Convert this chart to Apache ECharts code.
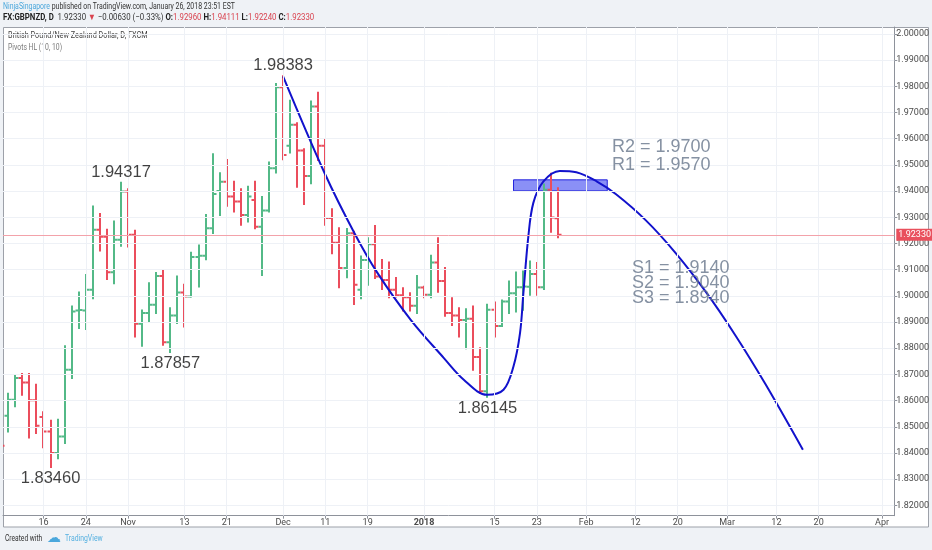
<!DOCTYPE html>
<html><head><meta charset="utf-8">
<script src="https://cdn.jsdelivr.net/npm/echarts@6/dist/echarts.min.js"></script>
<style>html,body{margin:0;padding:0;background:#eff2f6;}#c{width:932px;height:550px;}</style>
</head><body><div id="c"></div>
<script>
// GBPNZD daily bars, trading-day index 0 = 2017-10-06
const opens  = [1.8480,1.8542,1.8603,1.8686,1.8669,1.8601,1.8537,1.8482,1.8400,1.8463,
                1.8718,1.8944,1.8944,1.9023,1.9252,1.9226,1.9090,1.9214,1.9398,1.9233,
                1.8893,1.8934,1.8966,1.9076,1.8823,1.8925,1.9013,1.8997,1.9148,1.9153,
                1.9258,1.9400,1.9436,1.9379,1.9360,1.9309,1.9366,1.9264,1.9326,1.9487,
                1.9797,1.9573,1.9653,1.9555,1.9458,1.9723,1.9573,1.9297,1.9203,1.9106,
                1.9239,1.9023,1.9137,1.9197,1.9074,1.9060,1.9023,1.9002,1.8995,1.8962,
                1.9032,1.9004,1.9127,1.9057,1.8934,1.8925,1.8908,1.8912,1.8766,1.8636,
                1.8947,1.8885,1.8978,1.9010,1.9033,1.9035,1.9083,1.9033,1.9405,1.9296];
const highs  = [1.8520,1.8626,1.8695,1.8701,1.8701,1.8660,1.8555,1.8523,1.8527,1.8807,
                1.8959,1.9013,1.9080,1.9341,1.9313,1.9252,1.9284,1.94317,1.9407,1.9249,
                1.8944,1.9048,1.9087,1.9095,1.8953,1.9074,1.9042,1.9165,1.9192,1.9309,
                1.9541,1.9468,1.9519,1.9436,1.9407,1.9417,1.9436,1.9377,1.9509,1.9809,
                1.98383,1.9745,1.9659,1.9560,1.9742,1.9776,1.9598,1.9331,1.9258,1.9255,
                1.9245,1.9150,1.9220,1.9267,1.9137,1.9127,1.9068,1.9029,1.9010,1.9076,
                1.9035,1.9153,1.9220,1.9106,1.8991,1.8953,1.8949,1.8959,1.8800,1.8966,
                1.8975,1.8982,1.9055,1.9089,1.9093,1.9131,1.9125,1.9425,1.9466,1.94111];
const lows   = [1.8400,1.8482,1.8578,1.8622,1.8459,1.8476,1.8422,1.8346,1.8380,1.8438,
                1.8686,1.8877,1.8873,1.8991,1.9173,1.9064,1.9048,1.9191,1.9188,1.8845,
                1.8809,1.8902,1.8934,1.8813,1.87857,1.8896,1.8883,1.8997,1.9036,1.9140,
                1.9240,1.9309,1.9344,1.9322,1.9271,1.9284,1.9258,1.9080,1.9322,1.9471,
                1.9522,1.9547,1.9417,1.9351,1.9430,1.9519,1.9271,1.9163,1.9033,1.9071,
                1.8969,1.8991,1.9042,1.9068,1.9026,1.8995,1.8997,1.8944,1.8944,1.8934,
                1.8995,1.8995,1.9016,1.8924,1.8889,1.8845,1.8800,1.8718,1.8630,1.86145,
                1.8845,1.8885,1.8934,1.8940,1.8947,1.9004,1.9004,1.9026,1.9245,1.9224];
const closes = [1.8427,1.8603,1.8686,1.8669,1.8601,1.8504,1.8482,1.8400,1.8463,1.8718,
                1.8940,1.8946,1.9023,1.9252,1.9226,1.9090,1.9214,1.9398,1.9233,1.8893,
                1.8934,1.8966,1.9076,1.8823,1.8925,1.9013,1.8997,1.9148,1.9153,1.9258,
                1.9389,1.9436,1.9379,1.9360,1.9309,1.9379,1.9264,1.9326,1.9487,1.9797,
                1.9538,1.9653,1.9555,1.9458,1.9723,1.9573,1.9297,1.9203,1.9106,1.9239,
                1.9042,1.9137,1.9197,1.9074,1.9060,1.9023,1.9002,1.8995,1.8962,1.9032,
                1.9004,1.9127,1.9057,1.8934,1.8925,1.8908,1.8912,1.8766,1.8636,1.8947,
                1.8885,1.8978,1.9010,1.9033,1.9036,1.9083,1.9033,1.9405,1.9299,1.92330];

// time axis ticks (trading-day index) and their labels
const tickIdx    = [6,12,18,26,32,40,46,52,60,70,76,83,90,96,103,110,116,125];
const tickLabels = ['16','24','Nov','13','21','Dec','11','19','2018','15','23','Feb','12','20','Mar','12','20','Apr'];
// price axis ticks
const priceTicks = [1.82,1.83,1.84,1.85,1.86,1.87,1.88,1.89,1.90,1.91,1.92,1.93,1.94,1.95,1.96,1.97,1.98,1.99,2.00];

// pivots (bar index of marked highs / lows)
const pivotHighIdx = [17, 40];
const pivotLowIdx  = [7, 24, 69];

// hand-drawn curve (trading-day index, price)
const curveIdx = [40, 45.9, 50.13, 53.41, 58.11, 62.82, 65.64, 68.92, 71.28, 72.69, 73.62, 74.1, 74.8, 75.51, 76.92, 79.26, 81.61, 84.43, 87.25, 91.48, 95.71, 99.94, 104.17, 108.4, 113.76];
const curveVal = [1.98383, 1.94683, 1.92393, 1.90866, 1.89084, 1.87622, 1.86794, 1.86221, 1.86412, 1.87302, 1.88576, 1.90103, 1.92263, 1.9355, 1.94363, 1.94771, 1.94721, 1.94382, 1.93878, 1.92882, 1.91634, 1.90168, 1.88496, 1.86649, 1.84122];

// highlighted zone
const zoneIdx = [72.7, 86.0];
const zoneVal = [1.9443, 1.9401];

const resistanceTexts = ['R2 = 1.9700', 'R1 = 1.9570'];
const supportTexts = ['S1 = 1.9140', 'S2 = 1.9040', 'S3 = 1.8940'];
const lastPrice = 1.92330;

const UP = '#53b987', DOWN = '#eb4d5c';
const AX = '#8e929b', TXT = '#4b4b4b';
const F = 'Roboto';

const ohlc = opens.map((o, i) => [i, o, highs[i], lows[i], closes[i]]);
const curve = curveIdx.map((x, i) => [x, curveVal[i]]);

const pivots = [];
pivotHighIdx.forEach(i => pivots.push({value: [i, highs[i]], name: highs[i].toFixed(5), label: {position: 'top', distance: 2}}));
pivotLowIdx.forEach(i => pivots.push({value: [i, lows[i]], name: lows[i].toFixed(5), label: {position: 'bottom', distance: 3}}));

// text anchors for the level notes (in chart coordinates)
const levelNotes = [];
resistanceTexts.forEach((t, k) => levelNotes.push({value: [86.66, 1.95687 - k * 0.00687], name: t}));
supportTexts.forEach((t, k) => levelNotes.push({value: [89.5, 1.91069 - k * 0.00586], name: t}));

const chart = echarts.init(document.getElementById('c'), null, {renderer: 'canvas'});
chart.setOption({
  animation: false,
  backgroundColor: '#eff2f6',
  grid: {left: 3, right: 31.5, top: 27, bottom: 34.3},
  xAxis: {
    type: 'value', min: 0.254, max: 126.73,
    axisLine: {show: true, lineStyle: {color: AX}},
    axisTick: {show: true, customValues: tickIdx, length: 3, lineStyle: {color: AX}},
    axisLabel: {
      customValues: tickIdx, margin: 3, fontSize: 9, color: TXT, fontFamily: F,
      formatter: v => { const l = tickLabels[tickIdx.indexOf(v)]; return l === '2018' ? '{b|2018}' : l; },
      rich: {b: {fontWeight: 'bold', fontSize: 9, color: TXT, fontFamily: F}}
    },
    splitLine: {show: false}
  },
  yAxis: {
    type: 'value', position: 'right', min: 1.81603, max: 2.00267,
    axisLine: {show: true, lineStyle: {color: AX}},
    axisTick: {show: true, customValues: priceTicks, length: 3, lineStyle: {color: AX}},
    axisLabel: {customValues: priceTicks, margin: 2, fontSize: 9, color: TXT, fontFamily: F,
      formatter: v => v.toFixed(5)},
    splitLine: {show: false}
  },
  graphic: [
    {type: 'rect', z: -10, silent: true, shape: {x: 3.5, y: 27.5, width: 925, height: 499.5},
      style: {fill: '#ffffff', stroke: '#9da1a9', lineWidth: 1}},
    {type: 'text', x: 3, y: 2, scaleX: 0.77, style: {
      text: '{a|NinjaSingapore}{b| published on TradingView.com, January 26, 2018 23:51 EST}',
      font: '9px ' + F,
      rich: {a: {fill: '#4aa7dc', fontSize: 9, fontFamily: F}, b: {fill: '#333', fontSize: 9, fontFamily: F}}}},
    {type: 'text', x: 3, y: 13, scaleX: 0.87, style: {
      text: '{k|FX:GBPNZD, D}{n|  1.92330 }{r|▼}{n| −0.00630 (−0.33%) }{k|O:}{r|1.92960 }{k|H:}{r|1.94111 }{k|L:}{r|1.92240 }{k|C:}{r|1.92330}',
      font: '9px ' + F,
      rich: {k: {fill: '#222', fontWeight: 'bold', fontSize: 9, fontFamily: F},
             n: {fill: '#333', fontSize: 9, fontFamily: F},
             r: {fill: '#d9434f', fontSize: 9, fontFamily: F}}}},
    {type: 'text', x: 8, y: 31, scaleX: 0.81, style: {text: 'British Pound/New Zealand Dollar, D, FXCM', fill: '#444', font: '9px ' + F}},
    {type: 'text', x: 8, y: 43, scaleX: 0.76, style: {text: 'Pivots HL (10, 10)', fill: '#7a7a7a', font: '9px ' + F}},
    {type: 'text', x: 5, y: 534, scaleX: 0.74, style: {text: 'Created with', fill: '#333', font: '9px ' + F}},
    {type: 'text', x: 47, y: 531, style: {text: '☁', fill: '#4aa7dc', font: '14px "DejaVu Sans"'}},
    {type: 'text', x: 65, y: 534, scaleX: 0.76, style: {text: 'TradingView', fill: '#55b0e0', font: '9px ' + F}}
  ],
  series: [
    {
      type: 'line', data: [], silent: true, z: 1,
      markLine: {
        silent: true, symbol: 'none', animation: false, precision: 5,
        label: {show: false},
        lineStyle: {color: '#eef1f6', width: 1, type: 'solid'},
        data: priceTicks.map(v => ({yAxis: v})).concat(tickIdx.map(v => ({xAxis: v})))
      }
    },
    {
      type: 'line', data: [], silent: true, z: 1,
      markLine: {
        silent: true, symbol: 'none', animation: false, precision: 5,
        lineStyle: {color: '#f3a2aa', width: 1, type: 'solid'},
        label: {show: true, position: 'end', distance: 2, formatter: lastPrice.toFixed(5),
          backgroundColor: '#e9505d', color: '#fff', fontSize: 9, padding: [2, 2, 1, 2], fontFamily: F},
        data: [{yAxis: lastPrice}]
      }
    },
    {
      type: 'custom', z: 3, clip: true,
      data: ohlc,
      encode: {x: 0, y: [1, 2, 3, 4]},
      renderItem: (params, api) => {
        const x = api.value(0), o = api.value(1), h = api.value(2), l = api.value(3), c = api.value(4);
        const pH = api.coord([x, h]), pL = api.coord([x, l]), pO = api.coord([x, o]), pC = api.coord([x, c]);
        const col = c >= o ? UP : DOWN;
        const cx = Math.round(pH[0]);
        const w = 3.5;
        const st = {stroke: col, lineWidth: 2};
        return {type: 'group', children: [
          {type: 'line', shape: {x1: cx, y1: pH[1] - 1, x2: cx, y2: pL[1] + 1}, style: st},
          {type: 'line', shape: {x1: cx - w, y1: pO[1], x2: cx, y2: pO[1]}, style: st},
          {type: 'line', shape: {x1: cx, y1: pC[1], x2: cx + w, y2: pC[1]}, style: st}
        ]};
      }
    },
    {
      type: 'line', z: 4, data: curve, smooth: 0.35, showSymbol: false, silent: true,
      lineStyle: {color: '#1212cc', width: 2},
      markArea: {
        silent: true,
        itemStyle: {color: 'rgba(60,70,240,0.6)', borderColor: '#2323dd', borderWidth: 1},
        data: [[{coord: [zoneIdx[0], zoneVal[0]]}, {coord: [zoneIdx[1], zoneVal[1]]}]]
      }
    },
    {
      type: 'scatter', z: 5, symbolSize: 0, silent: true, data: pivots,
      label: {show: true, formatter: '{b}', color: '#111', fontSize: 16.5, fontFamily: 'Liberation Sans'}
    },
    {
      type: 'scatter', z: 5, symbolSize: 0, silent: true, data: levelNotes,
      label: {show: true, position: 'right', distance: 0, formatter: '{b}', color: '#66768b', fontSize: 18, fontFamily: 'Liberation Sans'}
    }
  ]
});
</script>
</body></html>
